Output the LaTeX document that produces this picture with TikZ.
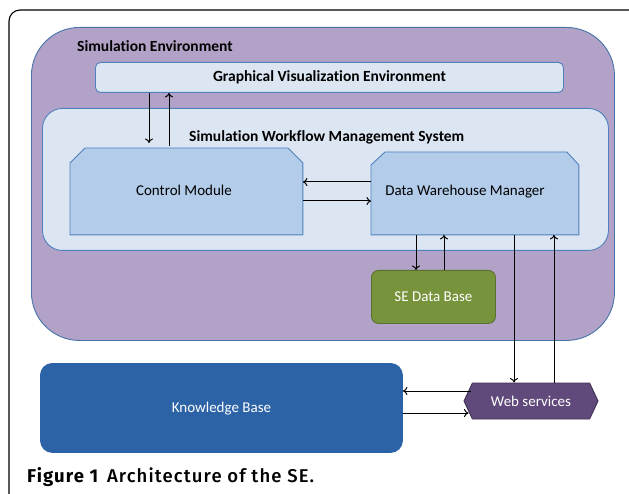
\documentclass[tikz,border=0pt]{standalone}
\usepackage{fontspec}
\setmainfont{Carlito}[Ligatures=NoCommon]
\newfontfamily\capfont{Fira Sans}[UprightFont=* Medium, BoldFont=* Bold, LetterSpace=6]
\usetikzlibrary{shapes.symbols,arrows.meta,calc}

\definecolor{envfill}{HTML}{B3A2C7}
\definecolor{envline}{HTML}{4673A8}
\definecolor{panelfill}{HTML}{DCE6F2}
\definecolor{panelline}{HTML}{4F81BD}
\definecolor{modfill}{HTML}{B2CCEA}
\definecolor{dbfill}{HTML}{77933C}
\definecolor{dbline}{HTML}{5A7230}
\definecolor{wsfill}{HTML}{604A7B}
\definecolor{wsline}{HTML}{3F3151}
\definecolor{kbfill}{HTML}{2C63A6}

\tikzset{
  box/.style={anchor=north west, inner sep=0pt, line width=0.9pt},
  panel/.style={box, draw=panelline, fill=panelfill},
  modarea/.style={box, rectangle},
  modline/.style={draw=panelline, fill=modfill, line width=0.9pt},
  label/.style={font=\fontsize{15}{17}\selectfont, inner sep=0pt},
  title/.style={font=\bfseries\fontsize{15.5}{17}\selectfont, inner sep=0pt},
  arr/.style={line width=1pt, -{To[length=4.5pt,width=8pt]}},
}

\begin{document}
\begin{tikzpicture}[x=1pt,y=-1pt]
  \clip (0,0) rectangle (629,494);

  % page frame
  \draw[line width=1.1pt, rounded corners=11pt] (9,10) rectangle (645,510);

  % simulation environment
  \node[box, draw=envline, fill=envfill, rounded corners=48pt,
        minimum width=583pt, minimum height=313pt] (env) at (31,27) {};
  \node[title, anchor=west] (envlbl) at (77,46) {Simulation Environment};

  % graphical visualization environment
  \node[panel, rounded corners=5pt, minimum width=468pt, minimum height=30pt] (gve) at (95,62) {};
  \node[title] (gvelbl) at (gve.center) {Graphical Visualization Environment};

  % workflow management system
  \node[panel, rounded corners=20pt, minimum width=566pt, minimum height=142pt] (wms) at (42,108) {};
  \node[title, anchor=west] (wmslbl) at (189,137) {Simulation Workflow Management System};

  % modules: rectangles with the two upper corners cut off
  \node[modarea, minimum width=232pt, minimum height=86pt] (cm) at (70,148) {};
  \draw[modline] (cm.south west) -- ($(cm.north west)+(0,15)$) -- ($(cm.north west)+(15,0)$)
    -- ($(cm.north east)+(-15,0)$) -- ($(cm.north east)+(0,15)$) -- (cm.south east) -- cycle;
  \node[label] (cmlbl) at (184,190) {Control Module};

  \node[modarea, minimum width=207pt, minimum height=82pt] (dwm) at (371,152) {};
  \draw[modline] (dwm.south west) -- ($(dwm.north west)+(0,13)$) -- ($(dwm.north west)+(14,0)$)
    -- ($(dwm.north east)+(-12,0)$) -- ($(dwm.north east)+(0,13)$) -- (dwm.south east) -- cycle;
  \node[label] (dwmlbl) at (465,192) {Data Warehouse Manager};

  % SE data base
  \node[box, draw=dbline, fill=dbfill, rounded corners=7pt, minimum width=124pt, minimum height=53pt] (db) at (371,270) {};
  \node[label, text=white] (dblbl) at (db.center) {SE Data Base};

  % knowledge base
  \node[box, draw=kbfill, fill=kbfill, rounded corners=12pt, minimum width=362pt, minimum height=89pt] (kb) at (40,363) {};
  \node[label, text=white] (kblbl) at ([yshift=-1pt]kb.center) {Knowledge Base};

  % web services
  \node[signal, signal to=west and east, signal pointer angle=130, draw=wsline, fill=wsfill,
        line width=0.9pt, inner sep=0pt, minimum width=134pt, minimum height=36pt,
        text=white, font=\fontsize{15}{17}\selectfont] (ws) at (531,401) {Web services};

  % connectors
  \draw[arr] (149,0 |- gve.south) -- (149,143);
  \draw[arr] (169,146) -- (169,0 |- gve.south);
  \draw[arr] (dwm.west |- 0,182) -- (cm.east |- 0,182);
  \draw[arr] (cm.east |- 0,201) -- (dwm.west |- 0,201);
  \draw[arr] (416,0 |- dwm.south) -- (416,0 |- db.north);
  \draw[arr] (444,0 |- db.north) -- (444,0 |- dwm.south);
  \draw[arr] (514,0 |- dwm.south) -- (514,0 |- ws.north);
  \draw[arr] (554,0 |- ws.north) -- (554,0 |- dwm.south);
  \draw[arr] ($(ws.west)+(7,-10)$) -- (kb.east |- 0,391);
  \draw[arr] (kb.east |- 0,413) -- ($(ws.west)+(5,12)$);

  % caption
  \node[anchor=west, inner sep=0pt, font=\capfont\fontsize{18.5}{20}\selectfont] (cap) at (27,477)
    {\textbf{Figure 1}\hspace{2pt} Architecture of the SE.};
\end{tikzpicture}
\end{document}
